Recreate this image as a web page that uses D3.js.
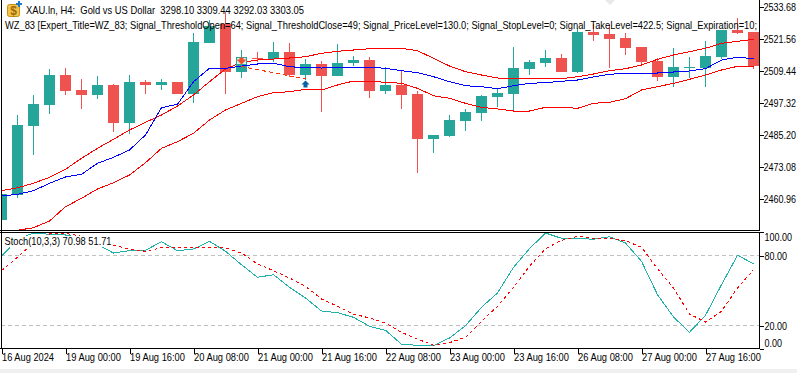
<!DOCTYPE html>
<html>
<head>
<meta charset="utf-8">
<title>XAU.ln H4</title>
<style>
    body { margin: 0; background: #fff; overflow: hidden; }
    svg { display: block; }
    text { font-family: "Liberation Sans", "DejaVu Sans Condensed", sans-serif; font-size: 11px; fill: #000; }
    .axis path, .axis line { stroke: #000; shape-rendering: crispEdges; }
    .axis text { font-size: 11px; }
    .axis.side text { font-size: 9px; }
</style>
<script src="https://d3js.org/d3.v7.min.js"></script>
</head>
<body>
<div id="chart"></div>
<script>
    // candle values, one entry per H4 bar
    const opens = [2452.82, 2462.29, 2488.42, 2496.37, 2507.74, 2502.05, 2500.16, 2503.95, 2489.56, 2505.09, 2503.95, 2505.09,
        2500.54, 2519.86, 2527.05, 2508.87, 2514.18, 2513.80, 2516.45, 2507.74, 2511.90, 2507.36, 2512.28, 2513.42,
        2501.68, 2503.95, 2500.54, 2483.50, 2484.63, 2490.31, 2493.34, 2499.40, 2500.54, 2510.01, 2512.28, 2514.18,
        2508.87, 2524.02, 2523.26, 2521.75, 2518.34, 2513.04, 2506.98, 2510.39, 2510.39, 2514.56, 2524.78, 2524.02];
    const highs = [2462.67, 2492.59, 2500.16, 2510.01, 2510.39, 2506.22, 2507.36, 2504.33, 2507.74, 2505.84, 2506.22, 2505.09,
        2523.64, 2528.57, 2531.60, 2517.21, 2516.45, 2520.23, 2519.86, 2513.80, 2513.04, 2519.48, 2514.94, 2514.56,
        2510.77, 2509.63, 2501.68, 2485.01, 2492.59, 2494.86, 2500.16, 2502.81, 2518.34, 2513.42, 2517.21, 2515.69,
        2525.54, 2527.05, 2526.67, 2523.64, 2518.34, 2514.18, 2517.96, 2514.56, 2520.61, 2524.78, 2529.32, 2524.02];
    const lows = [2452.82, 2461.15, 2477.44, 2492.96, 2500.16, 2494.86, 2498.65, 2486.15, 2485.39, 2500.54, 2502.05, 2500.54,
        2497.13, 2519.86, 2500.54, 2506.60, 2512.66, 2512.66, 2506.98, 2505.84, 2493.72, 2507.36, 2511.14, 2499.03,
        2500.54, 2494.86, 2470.62, 2478.19, 2484.25, 2486.53, 2490.31, 2495.62, 2494.10, 2507.74, 2510.77, 2508.87,
        2508.49, 2520.61, 2510.39, 2515.31, 2511.90, 2505.46, 2503.19, 2506.60, 2503.19, 2513.80, 2523.26, 2510.01];
    const closes = [2462.67, 2488.80, 2496.75, 2507.74, 2501.68, 2500.16, 2503.95, 2489.56, 2505.09, 2503.95, 2505.09, 2500.54,
        2520.23, 2526.29, 2508.87, 2514.18, 2513.80, 2516.45, 2507.74, 2511.90, 2507.36, 2512.28, 2513.42, 2501.68,
        2503.95, 2500.16, 2483.50, 2485.01, 2490.69, 2493.72, 2499.78, 2500.92, 2510.39, 2512.66, 2514.18, 2508.87,
        2524.02, 2522.89, 2521.37, 2517.96, 2512.66, 2506.98, 2510.77, 2510.77, 2514.94, 2524.78, 2523.64, 2511.14];

    const upperBand = [2463.91, 2465.05, 2466.72, 2468.99, 2472.02, 2476.18, 2479.97, 2483.38, 2486.90, 2489.82, 2492.58, 2495.99,
        2500.16, 2505.20, 2510.01, 2512.54, 2513.41, 2513.79, 2514.17, 2514.66, 2515.95, 2516.71, 2517.20, 2517.70,
        2517.85, 2517.85, 2516.94, 2514.06, 2511.14, 2508.98, 2507.73, 2506.60, 2506.33, 2506.33, 2506.33, 2506.33,
        2507.09, 2508.11, 2509.36, 2510.12, 2511.52, 2513.68, 2515.31, 2516.56, 2517.85, 2519.74, 2520.50, 2521.26];
    const middleLine = [2461.90, 2462.55, 2463.91, 2466.72, 2469.10, 2470.12, 2474.29, 2476.56, 2479.33, 2485.01, 2495.35, 2496.64,
        2505.20, 2510.27, 2510.27, 2511.14, 2511.90, 2512.17, 2510.88, 2510.50, 2510.38, 2510.65, 2510.65, 2510.65,
        2510.27, 2509.36, 2508.60, 2507.09, 2505.20, 2503.68, 2503.30, 2502.54, 2503.68, 2504.59, 2504.82, 2505.35,
        2505.84, 2506.98, 2508.00, 2508.38, 2508.49, 2508.49, 2508.87, 2509.25, 2510.12, 2513.41, 2514.44, 2513.91];
    const lowerBand = [2446.75, 2448.91, 2449.90, 2452.44, 2457.85, 2461.03, 2464.56, 2466.94, 2469.86, 2474.52, 2479.97, 2482.47,
        2485.65, 2490.69, 2494.48, 2497.01, 2499.51, 2501.03, 2501.41, 2502.32, 2502.05, 2503.95, 2505.46, 2505.35,
        2504.97, 2504.59, 2502.70, 2499.89, 2498.91, 2497.01, 2495.50, 2494.86, 2494.10, 2494.10, 2495.50, 2495.50,
        2495.12, 2497.01, 2497.39, 2498.76, 2502.05, 2503.30, 2504.59, 2506.11, 2507.74, 2509.63, 2511.03, 2511.03];

    const stochMain = [79.31, 93.89, 99.29, 98.17, 97.57, 95.00, 89.26, 82.14, 84.11, 84.46, 91.83, 84.11,
        85.57, 92.17, 83.60, 72.11, 61.31, 63.54, 52.74, 43.57, 32.43, 30.97, 27.03, 19.31,
        15.89, 3.89, 3.03, 2.69, 9.29, 19.83, 35.60, 47.86, 69.89, 85.83, 99.29, 94.74,
        94.74, 93.89, 96.11, 90.71, 75.03, 46.40, 27.29, 14.17, 28.74, 54.97, 80.17, 72.97];
    const stochSignal = [66.97, 78.46, 90.71, 98.43, 99.03, 96.46, 92.69, 88.74, 85.57, 83.60, 86.69, 87.03,
        87.03, 87.03, 86.43, 82.14, 72.71, 66.97, 60.71, 53.60, 42.71, 36.46, 29.86, 26.43,
        22.14, 14.17, 8.43, 3.03, 5.26, 9.89, 23.60, 36.46, 52.74, 70.74, 85.83, 93.03,
        96.46, 94.74, 94.74, 92.69, 87.03, 68.69, 52.14, 29.86, 23.00, 32.17, 52.14, 67.83];

    // the one trade on the chart: sell at bar 15, closed at bar 19
    const tradeBars = [15, 19];
    const tradePrices = [2510.95, 2506.22];
    const tradeMarkers = [2513.20, 2504.33];

    const priceTicks = [2533.68, 2521.56, 2509.44, 2497.32, 2485.20, 2473.08, 2460.96];
    const stochTicks = [100, 80, 20, 0];
    const stochLevels = [80, 20];
    const timeTickBars = [0, 4, 8, 12, 16, 20, 24, 28, 32, 36, 40, 44];
    const timeTickLabels = ["16 Aug 2024", "19 Aug 00:00", "19 Aug 16:00", "20 Aug 08:00", "21 Aug 00:00", "21 Aug 16:00",
        "22 Aug 08:00", "23 Aug 00:00", "23 Aug 16:00", "26 Aug 08:00", "27 Aug 00:00", "27 Aug 16:00"];

    const titleText = "XAU.ln, H4:  Gold vs US Dollar  3298.10 3309.44 3292.03 3303.05";
    const expertText = "WZ_83 [Expert_Title=WZ_83; Signal_ThresholdOpen=64; Signal_ThresholdClose=49; Signal_PriceLevel=130.0; Signal_StopLevel=0; Signal_TakeLevel=422.5; Signal_Expiration=10;";
    const stochText = "Stoch(10,3,3) 70.98 51.71";

    const width = 797, height = 373;
    const left = 1, right = 759, mainBottom = 230, stochTop = 232, stochBottom = 348;
    const green = "#26a69a", red = "#ef5350";

    // squeeze a text to the width it has in the terminal font
    function fit(selection, w) {
        selection.attr("textLength", w).attr("lengthAdjust", "spacingAndGlyphs");
    }

    const svg = d3.select("#chart").append("svg")
        .attr("width", width)
        .attr("height", height);

    svg.append("rect").attr("x", 0).attr("y", 369).attr("width", width).attr("height", 4).attr("fill", "#f0f0f0");

    const bars = d3.range(opens.length);
    const x = d3.scaleLinear().domain([0, 47]).range([1.5, 753.5]);
    const y = d3.scaleLinear().domain([2460.96, 2533.68]).range([198.5, 6.5]);
    const yStoch = d3.scaleLinear().domain([20, 80]).range([325.5, 255.5]);

    const defs = svg.append("defs");
    defs.append("clipPath").attr("id", "mainClip").append("rect")
        .attr("x", left).attr("y", 0).attr("width", right - left).attr("height", mainBottom);
    defs.append("clipPath").attr("id", "stochClip").append("rect")
        .attr("x", left).attr("y", stochTop).attr("width", right - left).attr("height", stochBottom - stochTop);

    const main = svg.append("g").attr("clip-path", "url(#mainClip)");
    const stoch = svg.append("g").attr("clip-path", "url(#stochClip)");

    // shift marker at the top of the chart
    main.append("path")
        .attr("d", "M605,0 L615,0 L610,5 Z")
        .attr("fill", "#e8e8e8");

    // wicks then bodies
    main.append("g").selectAll("rect")
        .data(bars)
        .join("rect")
        .attr("x", i => x(i) - 0.5)
        .attr("y", i => Math.round(y(highs[i])))
        .attr("width", 1)
        .attr("height", i => Math.round(y(lows[i])) - Math.round(y(highs[i])))
        .attr("fill", i => closes[i] >= opens[i] ? green : red);

    main.append("g").selectAll("rect")
        .data(bars)
        .join("rect")
        .attr("x", i => x(i) - 5.5)
        .attr("y", i => Math.round(y(Math.max(opens[i], closes[i]))))
        .attr("width", 11)
        .attr("height", i => Math.max(1, Math.round(y(Math.min(opens[i], closes[i]))) - Math.round(y(Math.max(opens[i], closes[i])))))
        .attr("fill", i => closes[i] >= opens[i] ? green : red);

    const priceLine = d3.line().x((d, i) => x(i)).y(d => y(d));

    [[upperBand, "#ff0000"], [lowerBand, "#ff0000"], [middleLine, "#0000ff"]].forEach(([values, color]) => {
        main.append("path")
            .attr("d", priceLine(values))
            .attr("fill", "none")
            .attr("stroke", color)
            .attr("stroke-width", 1)
            .attr("shape-rendering", "crispEdges");
    });

    // trade line and its entry / exit arrows
    main.append("line")
        .attr("x1", x(tradeBars[0]))
        .attr("y1", y(tradePrices[0]))
        .attr("x2", x(tradeBars[1]))
        .attr("y2", y(tradePrices[1]))
        .attr("stroke", "#ff3300")
        .attr("stroke-dasharray", "4,3")
        .attr("shape-rendering", "crispEdges");

    const sellX = x(tradeBars[0]), sellY = y(tradeMarkers[0]);
    main.append("rect")
        .attr("x", sellX - 5)
        .attr("y", sellY - 3)
        .attr("width", 10)
        .attr("height", 7)
        .attr("fill", "#d8efec")
        .attr("stroke", green)
        .attr("shape-rendering", "crispEdges");
    main.append("path")
        .attr("d", `M${sellX - 2},${sellY - 3} h4 v2 h3 l-5,5 l-5,-5 h3 Z`)
        .attr("fill", "#f0502a");

    const buyX = x(tradeBars[1]), buyY = y(tradeMarkers[1]);
    main.append("path")
        .attr("d", `M${buyX},${buyY - 3.5} l4,4 h-2 v3 h-4 v-3 h-2 Z`)
        .attr("fill", "#0b5fa5");

    // stochastic pane
    stoch.append("g").selectAll("line")
        .data(stochLevels)
        .join("line")
        .attr("x1", left)
        .attr("x2", right)
        .attr("y1", d => yStoch(d))
        .attr("y2", d => yStoch(d))
        .attr("stroke", "#c0c0c0")
        .attr("stroke-dasharray", "4,3")
        .attr("shape-rendering", "crispEdges");

    const stochLine = d3.line().x((d, i) => x(i)).y(d => yStoch(d));

    stoch.append("path")
        .attr("d", stochLine(stochMain))
        .attr("fill", "none")
        .attr("stroke", "#20b2aa")
        .attr("shape-rendering", "crispEdges");

    stoch.append("path")
        .attr("d", stochLine(stochSignal))
        .attr("fill", "none")
        .attr("stroke", "#ff0000")
        .attr("stroke-dasharray", "3,3")
        .attr("shape-rendering", "crispEdges");

    // the label box hides the lines behind it
    stoch.append("rect")
        .attr("x", 2).attr("y", 236).attr("width", 111).attr("height", 11)
        .attr("fill", "#fff");
    svg.append("text").attr("x", 4.5).attr("y", 245).text(stochText).call(fit, 107);

    // frame
    const frame = svg.append("g").attr("stroke", "#000").attr("shape-rendering", "crispEdges");
    frame.append("line").attr("x1", 1.5).attr("x2", 1.5).attr("y1", 0).attr("y2", stochBottom);
    frame.append("line").attr("x1", 0).attr("x2", right).attr("y1", mainBottom + 0.5).attr("y2", mainBottom + 0.5);
    frame.append("line").attr("x1", 0).attr("x2", right).attr("y1", stochTop + 0.5).attr("y2", stochTop + 0.5);

    // right hand price axis, small font stretched to the terminal's tall narrow digits
    const priceAxis = svg.append("g")
        .attr("class", "axis side")
        .attr("transform", `translate(${right + 0.5},0)`)
        .call(d3.axisRight(y).tickValues(priceTicks).tickFormat(d3.format(".2f")).tickSize(4).tickPadding(0));
    priceAxis.select(".domain").attr("d", `M0,0 V${mainBottom + 0.5}`);
    priceAxis.selectAll(".tick text").attr("transform", "scale(1,1.22)");

    const stochAxis = svg.append("g")
        .attr("class", "axis side")
        .attr("transform", `translate(${right + 0.5},0)`)
        .call(d3.axisRight(yStoch).tickValues(stochTicks).tickFormat(d3.format(".2f")).tickSize(4).tickPadding(1));
    stochAxis.select(".domain").attr("d", `M0,${stochTop} V${stochBottom + 0.5}`);
    // end labels sit inside the pane, not on their ticks
    stochAxis.selectAll(".tick text")
        .attr("transform", "scale(1,1.22)")
        .attr("dy", d => d === 100 ? "0.72em" : d === 0 ? "-0.25em" : "0.32em");

    // time axis, labels start just right of the tick
    const timeAxis = svg.append("g")
        .attr("class", "axis")
        .attr("transform", `translate(0,${stochBottom + 0.5})`)
        .call(d3.axisBottom(x).tickValues(timeTickBars).tickFormat((d, i) => timeTickLabels[i]).tickSize(5).tickPadding(0));
    timeAxis.select(".domain").attr("d", `M0,0 H${right + 1}`);
    timeAxis.selectAll(".tick text")
        .attr("text-anchor", "start")
        .attr("textLength", (d, i) => i === 0 ? 52 : 55)
        .attr("lengthAdjust", "spacingAndGlyphs");

    // header texts, drawn over the candles
    svg.append("text").attr("x", 26).attr("y", 14).style("white-space", "pre").text(titleText).call(fit, 278);
    svg.append("text")
        .attr("transform", "translate(5,29) scale(1,1.16)")
        .style("font-size", "9.5px")
        .text(expertText)
        .call(fit, 752);

    // symbol icon
    const icon = svg.append("g");
    icon.append("rect")
        .attr("x", 7.5).attr("y", 4.5).attr("width", 12).attr("height", 12).attr("rx", 2)
        .attr("fill", "#f6c445").attr("stroke", "#c98f14");
    icon.append("text")
        .attr("x", 13.5).attr("y", 15)
        .attr("text-anchor", "middle")
        .style("font-size", "12px")
        .style("font-weight", "bold")
        .style("fill", "#9a6a10")
        .text("$");
    icon.append("path")
        .attr("d", "M19,1 v6 M16,4 h6")
        .attr("stroke", "#1f78c8")
        .attr("stroke-width", 2);
</script>
</body>
</html>
